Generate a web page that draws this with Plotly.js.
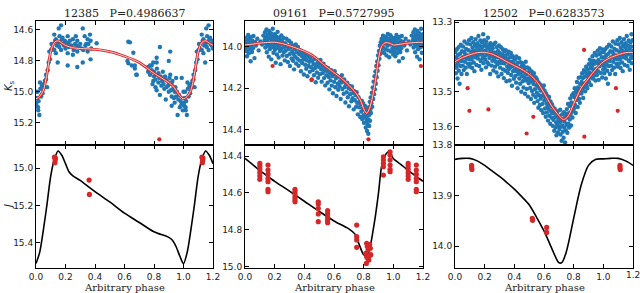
<!DOCTYPE html>
<html>
<head>
<meta charset="utf-8">
<script src="https://cdn.plot.ly/plotly-3.0.1.min.js"></script>
<style>html,body{margin:0;padding:0;background:#fff;overflow:hidden;}#chart{width:640px;height:293px;}
#edgeTick{position:absolute;left:626px;top:270px;font-family:'DejaVu Sans',sans-serif;font-size:9px;line-height:11px;color:#222;white-space:nowrap;}</style>
</head>
<body>
<div id="chart"></div>
<div id="edgeTick"></div>
<script>
// ---------- DATA ----------
const starNames = ['12385', '09161', '12502'];
const periods = ['0.4986637', '0.5727995', '0.6283573'];
const phaseTicks = [0, 0.2, 0.4, 0.6, 0.8, 1.0, 1.2];
const phaseTickText = ['0.0', '0.2', '0.4', '0.6', '0.8', '1.0', '1.2'];

// Star 1 (12385) Ks observations [phase, mag]
const ks1Pts = [[0.000,15.00],[0.004,15.09],[0.007,15.04],[0.011,15.00],[0.014,15.10],[0.018,15.06],[0.023,15.15],[0.027,14.94],[0.003,15.07],[0.015,15.12],[0.030,14.98],[0.035,15.03],[0.040,14.96],[0.045,15.01],[0.050,14.95],[0.055,14.97],[0.060,14.93],[0.068,14.89],[0.068,14.92],[0.075,14.97],[0.079,14.86],[0.086,14.81],[0.090,14.74],[0.095,14.79],[0.102,14.73],[0.105,14.69],[0.110,14.72],[0.124,14.63],[0.124,14.73],[0.130,14.67],[0.135,14.66],[0.135,14.75],[0.140,14.70],[0.147,14.81],[0.148,14.69],[0.154,14.59],[0.158,14.71],[0.160,14.64],[0.165,14.68],[0.170,14.57],[0.170,14.73],[0.175,14.66],[0.180,14.65],[0.185,14.69],[0.190,14.70],[0.195,14.67],[0.200,14.72],[0.205,14.68],[0.215,14.64],[0.215,14.75],[0.215,14.83],[0.220,14.69],[0.223,14.71],[0.230,14.67],[0.240,14.70],[0.250,14.66],[0.250,14.76],[0.255,14.73],[0.260,14.72],[0.265,14.69],[0.270,14.64],[0.275,14.70],[0.280,14.67],[0.280,14.74],[0.280,14.84],[0.290,14.71],[0.300,14.69],[0.310,14.72],[0.317,14.59],[0.317,14.81],[0.320,14.73],[0.330,14.64],[0.335,14.70],[0.340,14.69],[0.350,14.66],[0.350,14.74],[0.355,14.69],[0.366,14.63],[0.370,14.67],[0.370,14.79],[0.375,14.72],[0.411,14.686],[0.626,14.676],[0.620,14.80],[0.626,14.816],[0.637,14.68],[0.650,14.83],[0.660,14.747],[0.670,14.83],[0.670,14.85],[0.680,14.89],[0.683,14.89],[0.760,14.87],[0.773,14.83],[0.773,14.89],[0.784,14.86],[0.784,14.83],[0.795,14.81],[0.795,14.93],[0.800,14.87],[0.818,14.81],[0.818,14.78],[0.818,14.99],[0.820,14.85],[0.836,14.91],[0.840,14.71],[0.840,15.02],[0.850,14.96],[0.860,14.87],[0.870,14.98],[0.880,14.92],[0.880,15.05],[0.900,14.94],[0.900,14.80],[0.900,15.00],[0.910,14.89],[0.910,14.74],[0.920,14.95],[0.920,15.03],[0.920,15.09],[0.930,14.98],[0.940,15.00],[0.940,15.07],[0.950,15.03],[0.950,14.91],[0.960,15.15],[0.975,15.10],[0.987,15.08],[0.988,14.91],[0.995,15.12],[0.800,14.90],[0.810,14.92],[0.830,14.88],[0.830,14.94],[0.845,14.90],[0.855,14.93],[0.865,14.95],[0.875,14.90],[0.885,14.97],[0.895,14.96],[0.905,14.91],[0.915,14.99],[0.925,14.93],[0.935,15.04],[0.945,14.97],[0.955,15.00],[0.965,15.05],[0.970,15.02],[0.980,15.06],[0.760,14.84],[0.790,14.95],[0.810,14.97]];
const ks1Rejected = [[0.836,15.307]];
const ks1Fit = [[0,15.045],[0.025,15.03],[0.05,14.99],[0.075,14.88],[0.1,14.74],[0.125,14.68],[0.15,14.67],[0.175,14.685],[0.2,14.70],[0.25,14.715],[0.3,14.72],[0.4,14.725],[0.5,14.74],[0.6,14.77],[0.7,14.81],[0.8,14.88],[0.85,14.91],[0.9,14.94],[0.925,14.96],[0.95,14.99],[0.975,15.025],[1.0,15.045]];
const j1Pts = [[0.125,14.94],[0.130,14.955],[0.128,14.97],[0.132,14.945],[0.360,15.063],[0.362,15.14]];
const j1Fit = [[0,15.51],[0.025,15.45],[0.05,15.33],[0.075,15.19],[0.1,15.04],[0.125,14.95],[0.15,14.907],[0.175,14.93],[0.2,14.975],[0.225,15.02],[0.25,15.04],[0.3,15.065],[0.35,15.095],[0.4,15.125],[0.5,15.18],[0.6,15.24],[0.7,15.29],[0.8,15.34],[0.9,15.37],[0.925,15.385],[0.95,15.42],[0.975,15.47],[1.0,15.51]];

// Star 2 (09161)
const ks2Pts = [[0.001,13.975],[0.003,14.004],[0.005,13.958],[0.008,14.021],[0.010,13.987],[0.013,14.046],[0.016,13.969],[0.018,14.003],[0.021,13.944],[0.024,13.991],[0.026,14.032],[0.029,13.962],[0.032,14.012],[0.035,13.981],[0.038,14.07],[0.041,13.953],[0.044,13.996],[0.047,14.026],[0.050,13.972],[0.054,14.008],[0.057,13.949],[0.061,13.985],[0.064,14.055],[0.068,13.978],
[0.074,13.995],[0.083,13.962],[0.092,14.018],[0.104,13.975],[0.115,13.99],[0.124,13.947],
[0.132,13.968],[0.135,13.931],[0.137,14.004],[0.140,13.955],[0.142,13.986],[0.145,13.918],[0.147,14.027],[0.150,13.972],[0.152,13.943],[0.155,13.996],[0.157,13.96],[0.160,14.048],[0.162,13.925],[0.165,13.981],[0.167,14.012],[0.170,13.949],[0.172,13.99],[0.175,13.935],[0.177,14.061],[0.180,13.967],[0.182,14.003],[0.185,13.953],[0.187,13.914],[0.190,13.985],[0.192,14.029],[0.195,13.962],[0.197,13.998],[0.200,13.94],[0.202,14.015],[0.205,13.973],[0.207,14.077],[0.210,13.951],[0.212,13.99],[0.215,14.038],[0.217,13.964],[0.220,13.929],[0.222,14.006],[0.225,13.978],[0.227,14.052],[0.230,13.956],[0.232,13.995],[0.235,14.021],[0.237,13.969],[0.240,14.084],[0.242,13.987],[0.245,13.946],[0.247,14.01],[0.250,13.975],[0.253,14.043],[0.256,13.99],[0.259,13.958],[0.262,14.027],[0.265,14.002],[0.268,14.066],
[0.272,13.984],[0.275,14.019],[0.279,13.962],[0.282,14.045],[0.286,13.998],[0.289,14.074],[0.293,14.011],[0.296,13.972],[0.300,14.036],[0.303,14.093],[0.307,14.004],[0.310,13.981],[0.314,14.057],[0.317,14.023],[0.321,13.994],[0.324,14.068],[0.328,14.035],[0.331,14.109],[0.335,14.012],[0.338,14.049],[0.342,13.99],[0.345,14.081],[0.349,14.027],
[0.353,14.058],[0.357,14.002],[0.361,14.092],[0.365,14.035],[0.369,14.067],[0.373,14.018],[0.377,14.118],[0.381,14.044],[0.385,14.079],[0.389,14.031],[0.393,14.062],[0.397,14.134],[0.401,14.051],[0.405,14.087],[0.409,14.036],[0.413,14.106],[0.417,14.065],[0.421,14.142],[0.425,14.047],[0.429,14.093],[0.433,14.073],[0.437,14.121],[0.441,14.055],[0.445,14.099],[0.449,14.16],[0.453,14.068],[0.457,14.112],[0.461,14.083],[0.465,14.137],[0.469,14.059],[0.473,14.102],[0.477,14.171],[0.481,14.088],[0.485,14.124],[0.489,14.076],[0.493,14.149],[0.497,14.097],
[0.501,14.081],[0.505,14.132],[0.509,14.064],[0.513,14.109],[0.517,14.168],[0.521,14.093],[0.525,14.127],[0.529,14.082],[0.533,14.151],[0.537,14.112],[0.541,14.186],[0.545,14.097],[0.549,14.138],[0.553,14.119],[0.557,14.173],[0.561,14.104],[0.565,14.146],[0.569,14.205],[0.573,14.128],[0.577,14.162],[0.581,14.113],[0.585,14.187],[0.589,14.141],[0.593,14.224],[0.597,14.133],[0.601,14.169],[0.605,14.118],[0.609,14.195],[0.613,14.152],[0.617,14.237],[0.621,14.139],[0.625,14.178],[0.629,14.207],[0.633,14.145],[0.637,14.19],[0.641,14.166],[0.645,14.251],[0.649,14.172],
[0.653,14.137],[0.657,14.203],[0.661,14.168],[0.665,14.226],[0.669,14.158],[0.673,14.194],[0.677,14.268],[0.681,14.181],[0.685,14.219],[0.689,14.173],[0.693,14.243],[0.697,14.199],[0.701,14.286],[0.705,14.187],[0.709,14.228],[0.713,14.206],[0.717,14.262],[0.721,14.191],[0.725,14.248],[0.729,14.223],[0.733,14.301],[0.737,14.214],[0.741,14.257],[0.745,14.232],[0.749,14.289],[0.753,14.219],[0.757,14.27],[0.761,14.325],[0.765,14.243],[0.769,14.291],[0.773,14.262],[0.777,14.338],
[0.781,14.275],[0.784,14.312],[0.787,14.259],[0.790,14.347],[0.793,14.298],[0.796,14.271],[0.799,14.329],[0.802,14.365],[0.805,14.302],[0.808,14.283],[0.811,14.341],[0.814,14.388],[0.817,14.316],[0.819,14.296],[0.821,14.357],[0.823,14.405],[0.825,14.332],[0.827,14.372],[0.829,14.311],[0.831,14.418],[0.833,14.349],[0.835,14.291],[0.837,14.381],[0.839,14.327],[0.841,14.265],[0.843,14.356],[0.845,14.302],[0.847,14.244],[0.849,14.318],
[0.852,14.272],[0.855,14.221],[0.858,14.289],[0.861,14.196],[0.864,14.251],[0.867,14.168],[0.870,14.228],[0.873,14.142],[0.876,14.205],[0.879,14.119],[0.882,14.178],[0.885,14.093],[0.888,14.147],[0.891,14.071],[0.894,14.116],[0.897,14.042],[0.900,14.089],[0.903,14.021],[0.906,14.058],[0.909,13.996],[0.912,14.034],[0.915,13.979],[0.918,14.012],[0.921,13.963],[0.924,14.025],
[0.927,13.981],[0.930,13.948],[0.933,14.006],[0.936,13.967],[0.939,14.031],[0.942,13.985],[0.945,13.952],[0.948,14.013],[0.951,13.974],[0.954,14.042],[0.957,13.958],[0.960,13.996],[0.963,13.939],[0.966,14.018],[0.969,13.977],[0.972,14.051],[0.975,13.964],[0.978,13.99],[0.981,13.945],[0.984,14.024],[0.987,13.982],[0.990,13.957],[0.993,14.009],[0.996,13.971],[0.999,14.038]];
const ks2Rejected = [[0.186,14.093],[0.450,14.157],[0.832,14.445]];
const ks2Fit = [[0,13.992],[0.05,13.988],[0.1,13.983],[0.15,13.98],[0.2,13.979],[0.25,13.985],[0.3,13.996],[0.35,14.008],[0.4,14.022],[0.45,14.04],[0.5,14.068],[0.55,14.098],[0.6,14.125],[0.65,14.152],[0.7,14.185],[0.75,14.225],[0.78,14.26],[0.8,14.298],[0.82,14.32],[0.84,14.295],[0.86,14.24],[0.88,14.16],[0.9,14.06],[0.92,14.0],[0.94,13.983],[0.96,13.981],[0.98,13.985],[1.0,13.992]];
const j2Pts = [[0.100,14.44],[0.100,14.454],[0.100,14.472],[0.100,14.49],[0.100,14.508],[0.100,14.526],[0.155,14.449],[0.155,14.476],[0.155,14.498],[0.155,14.521],[0.155,14.539],[0.155,14.58],[0.155,14.593],[0.337,14.58],[0.337,14.593],[0.337,14.608],[0.337,14.624],[0.337,14.638],[0.337,14.648],[0.494,14.648],[0.494,14.66],[0.494,14.684],[0.494,14.714],[0.494,14.756],[0.557,14.696],[0.557,14.714],[0.557,14.732],[0.557,14.747],[0.557,14.761],[0.753,14.774],[0.753,14.837],[0.753,14.855],[0.753,14.895],[0.820,14.873],[0.825,14.89],[0.830,14.909],[0.815,14.927],[0.820,14.946],[0.835,14.964],[0.818,14.982],[0.840,14.88],[0.845,14.90],[0.838,14.94],[0.848,14.935],[0.828,14.955],[0.933,14.404],[0.933,14.422],[0.933,14.44],[0.933,14.458],[0.933,14.503],[0.978,14.377],[0.978,14.395],[0.978,14.422],[0.978,14.449],[0.978,14.472],[0.978,14.485]];
const j2Fit = [[0,14.413],[0.05,14.445],[0.1,14.478],[0.15,14.508],[0.2,14.537],[0.3,14.59],[0.4,14.645],[0.5,14.70],[0.6,14.752],[0.7,14.795],[0.74,14.822],[0.77,14.88],[0.8,14.935],[0.82,14.94],[0.84,14.905],[0.86,14.82],[0.88,14.72],[0.9,14.60],[0.92,14.46],[0.94,14.405],[0.96,14.38],[0.97,14.377],[0.98,14.385],[1.0,14.413]];

// Star 3 (12502)
const ks3Pts = [[0.001,13.425],[0.003,13.386],[0.006,13.447],[0.007,13.402],[0.010,13.431],[0.013,13.378],[0.014,13.415],[0.017,13.462],[0.019,13.395],[0.022,13.421],[0.025,13.372],[0.026,13.44],[0.029,13.408],[0.031,13.477],[0.034,13.391],[0.037,13.426],[0.039,13.365],[0.042,13.412],[0.044,13.449],[0.047,13.384],[0.049,13.403],
[0.052,13.425],[0.054,13.37],[0.057,13.401],[0.059,13.438],[0.062,13.386],[0.064,13.356],[0.067,13.414],[0.069,13.392],[0.072,13.431],[0.075,13.377],[0.077,13.405],[0.080,13.449],[0.082,13.362],[0.085,13.396],[0.088,13.42],[0.090,13.381],[0.093,13.407],[0.095,13.352],[0.098,13.428],
[0.101,13.398],[0.103,13.364],[0.106,13.419],[0.108,13.385],[0.111,13.346],[0.113,13.406],[0.116,13.432],[0.118,13.374],[0.121,13.395],[0.123,13.358],[0.126,13.416],[0.129,13.382],[0.131,13.441],[0.134,13.367],[0.136,13.401],[0.139,13.349],[0.141,13.388],[0.144,13.423],[0.146,13.372],[0.149,13.396],
[0.151,13.361],[0.154,13.405],[0.156,13.381],[0.158,13.34],[0.161,13.394],[0.163,13.426],[0.166,13.368],[0.168,13.389],[0.171,13.353],[0.173,13.412],[0.176,13.377],[0.178,13.437],[0.181,13.393],[0.183,13.359],[0.186,13.404],[0.188,13.371],[0.190,13.335],[0.192,13.418],[0.195,13.384],[0.197,13.352],[0.199,13.399],
[0.202,13.366],[0.204,13.408],[0.207,13.382],[0.209,13.43],[0.212,13.357],[0.214,13.394],[0.217,13.373],[0.219,13.416],[0.222,13.345],[0.224,13.39],[0.227,13.421],[0.229,13.367],[0.232,13.403],[0.235,13.378],[0.237,13.449],[0.240,13.361],[0.242,13.397],[0.245,13.384],[0.247,13.425],[0.249,13.37],
[0.252,13.411],[0.254,13.375],[0.257,13.398],[0.259,13.439],[0.262,13.364],[0.264,13.405],[0.267,13.387],[0.270,13.428],[0.272,13.359],[0.275,13.414],[0.277,13.392],[0.280,13.445],[0.282,13.372],[0.285,13.401],[0.287,13.421],[0.290,13.383],[0.292,13.456],[0.295,13.396],[0.297,13.367],[0.299,13.413],
[0.302,13.389],[0.304,13.431],[0.307,13.404],[0.309,13.372],[0.312,13.418],[0.314,13.449],[0.317,13.394],[0.319,13.411],[0.322,13.378],[0.324,13.436],[0.327,13.402],[0.329,13.461],[0.332,13.385],[0.334,13.419],[0.337,13.397],[0.339,13.44],[0.342,13.381],[0.344,13.413],[0.347,13.47],[0.349,13.405],
[0.352,13.428],[0.354,13.393],[0.357,13.446],[0.359,13.412],[0.362,13.385],[0.364,13.435],[0.367,13.421],[0.369,13.468],[0.372,13.401],[0.374,13.43],[0.377,13.389],[0.379,13.452],[0.382,13.414],[0.384,13.483],[0.387,13.426],[0.389,13.398],[0.392,13.441],[0.394,13.417],[0.397,13.463],[0.399,13.405],
[0.402,13.436],[0.404,13.408],[0.407,13.455],[0.409,13.423],[0.412,13.474],[0.414,13.399],[0.417,13.441],[0.419,13.428],[0.422,13.49],[0.424,13.417],[0.427,13.449],[0.429,13.432],[0.432,13.404],[0.434,13.462],[0.437,13.438],[0.439,13.477],[0.442,13.415],[0.444,13.445],[0.447,13.5],[0.449,13.427],
[0.452,13.455],[0.454,13.418],[0.457,13.47],[0.459,13.441],[0.462,13.488],[0.464,13.426],[0.467,13.459],[0.469,13.437],[0.472,13.506],[0.474,13.447],[0.477,13.414],[0.479,13.468],[0.482,13.45],[0.484,13.492],[0.487,13.43],[0.489,13.462],[0.492,13.514],[0.494,13.445],[0.497,13.476],[0.499,13.433],
[0.502,13.47],[0.504,13.438],[0.507,13.489],[0.509,13.455],[0.512,13.521],[0.514,13.463],[0.517,13.442],[0.519,13.498],[0.522,13.471],[0.524,13.452],[0.527,13.509],[0.529,13.478],[0.532,13.447],[0.534,13.532],[0.537,13.466],[0.539,13.493],[0.542,13.458],[0.544,13.515],[0.547,13.481],[0.549,13.462],
[0.552,13.503],[0.554,13.468],[0.557,13.527],[0.559,13.485],[0.562,13.546],[0.564,13.474],[0.567,13.51],[0.569,13.491],[0.572,13.538],[0.574,13.479],[0.577,13.52],[0.579,13.497],[0.582,13.553],[0.584,13.486],[0.587,13.512],[0.589,13.535],[0.592,13.49],[0.594,13.561],[0.597,13.508],[0.599,13.482],
[0.602,13.525],[0.604,13.497],[0.607,13.548],[0.609,13.516],[0.612,13.572],[0.614,13.505],[0.617,13.534],[0.619,13.56],[0.622,13.512],[0.624,13.541],[0.627,13.583],[0.629,13.523],[0.632,13.55],[0.634,13.515],[0.637,13.569],[0.639,13.537],[0.642,13.592],[0.644,13.528],[0.647,13.556],[0.649,13.541],
[0.652,13.575],[0.654,13.536],[0.657,13.562],[0.659,13.598],[0.662,13.545],[0.664,13.581],[0.667,13.558],[0.669,13.612],[0.672,13.549],[0.674,13.573],[0.677,13.603],[0.679,13.561],[0.682,13.588],[0.684,13.625],[0.687,13.568],[0.689,13.594],[0.692,13.556],[0.694,13.617],[0.697,13.58],[0.699,13.6],
[0.702,13.571],[0.704,13.607],[0.707,13.588],[0.709,13.552],[0.712,13.623],[0.714,13.584],[0.717,13.6],[0.719,13.641],[0.722,13.565],[0.724,13.597],[0.727,13.615],[0.729,13.578],[0.732,13.632],[0.734,13.559],[0.737,13.603],[0.739,13.586],[0.742,13.646],[0.744,13.572],[0.747,13.611],[0.749,13.563],
[0.752,13.595],[0.754,13.55],[0.757,13.618],[0.759,13.574],[0.762,13.535],[0.764,13.592],[0.767,13.562],[0.769,13.603],[0.772,13.541],[0.774,13.58],[0.777,13.519],[0.779,13.566],[0.782,13.597],[0.784,13.531],[0.787,13.558],[0.789,13.51],[0.792,13.574],[0.794,13.537],[0.797,13.555],[0.799,13.504],
[0.802,13.548],[0.804,13.515],[0.807,13.49],[0.809,13.538],[0.812,13.503],[0.814,13.561],[0.817,13.497],[0.819,13.524],[0.822,13.472],[0.824,13.516],[0.827,13.544],[0.829,13.488],[0.832,13.506],[0.834,13.46],[0.837,13.521],[0.839,13.495],[0.842,13.532],[0.844,13.478],[0.847,13.499],[0.849,13.458],
[0.852,13.505],[0.854,13.472],[0.857,13.447],[0.859,13.493],[0.862,13.461],[0.864,13.518],[0.867,13.479],[0.869,13.438],[0.872,13.486],[0.874,13.457],[0.877,13.499],[0.879,13.445],[0.882,13.474],[0.884,13.428],[0.887,13.482],[0.889,13.454],[0.892,13.49],[0.894,13.436],[0.897,13.468],[0.899,13.447],
[0.902,13.421],[0.904,13.473],[0.907,13.445],[0.909,13.408],[0.912,13.459],[0.914,13.432],[0.917,13.481],[0.919,13.417],[0.922,13.449],[0.924,13.426],[0.927,13.398],[0.929,13.462],[0.932,13.437],[0.934,13.411],[0.937,13.454],[0.939,13.42],[0.942,13.389],[0.944,13.443],[0.947,13.468],[0.949,13.414],
[0.952,13.434],[0.954,13.396],[0.957,13.452],[0.959,13.418],[0.962,13.382],[0.964,13.441],[0.967,13.409],[0.969,13.466],[0.972,13.392],[0.974,13.427],[0.977,13.375],[0.979,13.415],[0.982,13.446],[0.984,13.388],[0.987,13.421],[0.989,13.401],[0.992,13.459],[0.994,13.379],[0.997,13.413],[0.999,13.436]];
const ks3Rejected = [[0.085,13.49],[0.097,13.555],[0.225,13.551],[0.483,13.62],[0.528,13.572],[0.870,13.38],[0.872,13.629]];
const ks3Fit = [[0,13.414],[0.05,13.402],[0.1,13.394],[0.15,13.388],[0.2,13.387],[0.25,13.392],[0.3,13.402],[0.35,13.414],[0.4,13.425],[0.45,13.436],[0.5,13.45],[0.55,13.47],[0.6,13.503],[0.65,13.54],[0.7,13.568],[0.73,13.58],[0.76,13.572],[0.8,13.535],[0.85,13.49],[0.9,13.462],[0.95,13.435],[1.0,13.414]];
const j3Pts = [[0.112,13.840],[0.112,13.844],[0.114,13.848],[0.521,13.945],[0.523,13.949],[0.618,13.963],[0.618,13.973]];
const j3Fit = [[0,13.828],[0.05,13.826],[0.1,13.826],[0.15,13.831],[0.2,13.84],[0.25,13.851],[0.3,13.862],[0.35,13.874],[0.4,13.887],[0.45,13.902],[0.5,13.918],[0.55,13.943],[0.6,13.97],[0.65,14.003],[0.7,14.033],[0.72,14.033],[0.75,14.012],[0.8,13.945],[0.85,13.88],[0.9,13.84],[0.95,13.828],[1.0,13.827]];

// axis ranges (magnitudes, bottom -> top) and tick values
const ksRanges = [[15.344,14.542],[14.472,13.877],[13.653,13.297]];
const jRanges = [[15.534,14.875],[15.007,14.340],[14.0436,13.7995]];
const ksTicks = [[14.6,14.8,15.0,15.2],[14.0,14.2,14.4],[13.3,13.5,13.6]];
const jTicks = [[15.0,15.2,15.4],[14.4,14.6,14.8,15.0],[13.8,13.9,14.0]];

// ---------- BUILD ----------
function foldPts(pts){
  const x=[],y=[];
  pts.forEach(p=>{x.push(p[0]);y.push(p[1]); if(p[0]<=0.2){x.push(p[0]+1);y.push(p[1]);}});
  return {x,y};
}
function foldCurve(pts){
  const all = pts.concat(pts.filter(p=>p[0]>0 && p[0]<=0.2).map(p=>[p[0]+1,p[1]]));
  return {x:all.map(p=>p[0]), y:all.map(p=>p[1])};
}
const BLUE='#1f77b4', RED='#d62728';
const ksSets=[[ks1Pts,ks1Rejected,ks1Fit],[ks2Pts,ks2Rejected,ks2Fit],[ks3Pts,ks3Rejected,ks3Fit]];
const jSets=[[j1Pts,j1Fit],[j2Pts,j2Fit],[j3Pts,j3Fit]];
const traces=[];
ksSets.forEach((s,i)=>{
  const xa='x'+(i+1), ya='y'+(i+1);
  const p=foldPts(s[0]);
  traces.push({x:p.x,y:p.y,xaxis:xa,yaxis:ya,mode:'markers',type:'scatter',marker:{color:BLUE,size:4.4},hoverinfo:'skip'});
  const c=foldCurve(s[2]);
  traces.push({x:c.x,y:c.y,xaxis:xa,yaxis:ya,mode:'lines',type:'scatter',line:{color:RED,width:2.8,shape:'spline',smoothing:0.8},hoverinfo:'skip'});
  traces.push({x:c.x,y:c.y,xaxis:xa,yaxis:ya,mode:'lines',type:'scatter',line:{color:'#fbe3e3',width:0.9,shape:'spline',smoothing:0.8},hoverinfo:'skip'});
  const r=foldPts(s[1]);
  traces.push({x:r.x,y:r.y,xaxis:xa,yaxis:ya,mode:'markers',type:'scatter',marker:{color:RED,size:4.2},hoverinfo:'skip'});
});
jSets.forEach((s,i)=>{
  const xa='x'+(i+4), ya='y'+(i+4);
  const c=foldCurve(s[1]);
  traces.push({x:c.x,y:c.y,xaxis:xa,yaxis:ya,mode:'lines',type:'scatter',line:{color:'#000',width:1.6,shape:'spline',smoothing:0.8},hoverinfo:'skip'});
  const p=foldPts(s[0]);
  traces.push({x:p.x,y:p.y,xaxis:xa,yaxis:ya,mode:'markers',type:'scatter',marker:{color:RED,size:5.2},hoverinfo:'skip'});
});

const W=640,H=293;
const colPx=[[36,213],[245,423],[455,633]];
const topRow=[1-145/H,1-21/H], botRow=[1-268/H,1-145/H];
const tickFont={family:'DejaVu Sans, sans-serif',size:9,color:'#222'};
function xAxis(i,row,labels){
  // the right-most label of the last panel sits at the page edge; it is written as page text below
  const txt = (row===1 && i===2) ? phaseTickText.map((t,k)=>k===phaseTickText.length-1?' ':t) : phaseTickText;
  return {domain:[colPx[i][0]/W,colPx[i][1]/W],anchor:'y'+(row*3+i+1),range:[0,1.2],tickmode:'array',tickvals:phaseTicks,ticktext:txt,
    ticks:'inside',ticklen:4,tickwidth:1,tickcolor:'#000',showline:true,linecolor:'#000',linewidth:1,mirror:'ticks',
    showgrid:false,zeroline:false,showticklabels:labels,tickfont:{...tickFont},ticklabeloverflow:'allow',fixedrange:true};
}
function yAxis(i,row,range,tv){
  return {domain:row===0?topRow:botRow,anchor:'x'+(row*3+i+1),range:range,tickmode:'array',tickvals:tv,ticktext:tv.map(v=>v.toFixed(1)),
    ticks:'inside',ticklen:4,tickwidth:1,tickcolor:'#000',showline:true,linecolor:'#000',linewidth:1,mirror:'ticks',
    showgrid:false,zeroline:false,tickfont:{...tickFont},ticklabeloverflow:'allow',fixedrange:true};
}
const layout={width:W,height:H,margin:{l:0,r:0,t:0,b:0},paper_bgcolor:'#fff',plot_bgcolor:'#fff',showlegend:false,annotations:[]};
for(let i=0;i<3;i++){
  layout['xaxis'+(i+1)]=xAxis(i,0,false);
  layout['yaxis'+(i+1)]=yAxis(i,0,ksRanges[i],ksTicks[i]);
  layout['xaxis'+(i+4)]=xAxis(i,1,true);
  layout['yaxis'+(i+4)]=yAxis(i,1,jRanges[i],jTicks[i]);
  const cx=(colPx[i][0]+colPx[i][1])/2/W;
  layout.annotations.push({text:starNames[i]+'\u00a0\u00a0\u00a0P='+periods[i],x:cx,y:1-13.5/H,xref:'paper',yref:'paper',xanchor:'center',yanchor:'middle',showarrow:false,font:{family:'DejaVu Serif, serif',size:11,color:'#222'}});
  layout.annotations.push({text:'Arbitrary phase',x:cx,y:1-287/H,xref:'paper',yref:'paper',xanchor:'center',yanchor:'middle',showarrow:false,font:{family:'DejaVu Serif, serif',size:10,color:'#222'}});
}
layout.annotations.push({text:'<i>K</i><sub>s</sub>',x:10/W,y:1-86/H,xref:'paper',yref:'paper',xanchor:'center',yanchor:'middle',textangle:-90,showarrow:false,font:{family:'DejaVu Sans, sans-serif',size:10,color:'#222'}});
layout.annotations.push({text:'<i>J</i>',x:8/W,y:1-207/H,xref:'paper',yref:'paper',xanchor:'center',yanchor:'middle',textangle:-90,showarrow:false,font:{family:'DejaVu Sans, sans-serif',size:10,color:'#222'}});

document.getElementById('edgeTick').textContent = phaseTickText[phaseTickText.length-1];
Plotly.newPlot('chart',traces,layout,{staticPlot:true,displayModeBar:false});
</script>
</body>
</html>
